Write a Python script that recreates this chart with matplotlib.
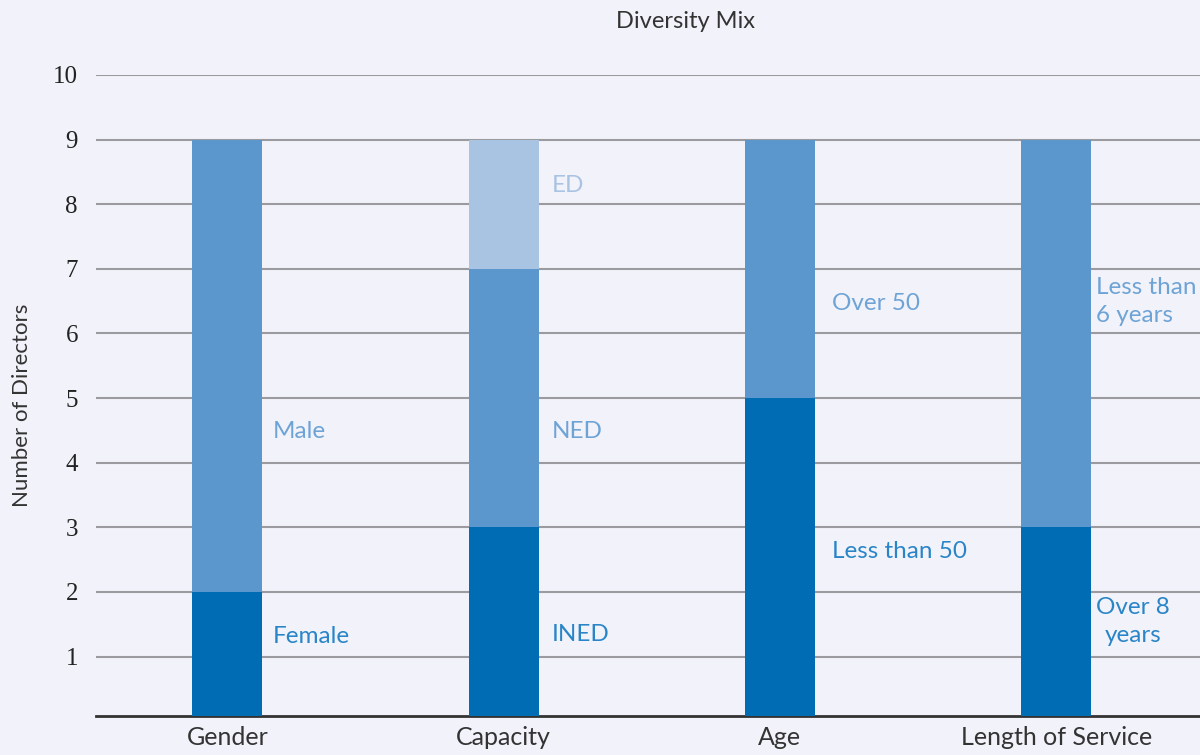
import numpy as np
import matplotlib
matplotlib.use('Agg')
import matplotlib.pyplot as plt

# ── Data ───────────────────────────────────────────────────────────────────────
categories = ['Gender', 'Capacity', 'Age', 'Length of Service']
dark_vals   = [2, 3, 5, 3]
mid_vals    = [7, 4, 4, 6]
light_vals  = [0, 2, 0, 0]

dark_labels  = ['Female', 'INED', 'Less than 50', 'Over 8\nyears']
mid_labels   = ['Male', 'NED', 'Over 50', 'Less than\n6 years']
light_labels = ['', 'ED', '', '']

# label heights (data units)
dark_label_y  = [1.31, 1.34, 2.62, 1.54]
mid_label_y   = [4.48, 4.48, 6.46, 6.5]
light_label_y = [0, 8.29, 0, 0]

y_ticks = list(range(1, 11))

# ── Style ──────────────────────────────────────────────────────────────────────
BG = '#f2f3fa'
DARK, MID, LIGHT = '#006cb4', '#5b97cc', '#a9c3e3'
DARK_TXT, MID_TXT, LIGHT_TXT = '#2a85c8', '#6ea3d6', '#a9c3e3'
SANS = ['Lato', 'DejaVu Sans']
SERIF = ['Liberation Serif', 'DejaVu Serif']
label_gap = [0.036, 0.047, 0.062, 0.018]   # gap between bar edge and its labels

fig = plt.figure(figsize=(12, 7.55), dpi=100)
fig.patch.set_facecolor(BG)
ax = fig.add_axes([0.08, 39/755, 0.92, (716-75)/755])
ax.set_facecolor(BG)

x = np.arange(len(categories))
w = 0.254
d = np.array(dark_vals)
m = np.array(mid_vals)
l = np.array(light_vals)
ax.bar(x, d, w, color=DARK, zorder=3)
ax.bar(x, m, w, bottom=d, color=MID, zorder=3)
ax.bar(x, l, w, bottom=d+m, color=LIGHT, zorder=3)

ax.set_xlim(-0.475, 3.52)
ax.set_ylim(0.08, 10)
ax.set_yticks(y_ticks)
ax.set_yticklabels([str(t) for t in y_ticks], family=SERIF, fontsize=18, color='#222')
ax.yaxis.grid(True, color='#9a9a9f', linewidth=1.5, zorder=1)
ax.tick_params(axis='y', length=0, pad=13)
ax.set_xticks(x)
ax.set_xticklabels(categories, family=SANS, fontsize=18, color='#333')
ax.tick_params(axis='x', length=0, pad=7)
for s in ['top', 'right', 'left']:
    ax.spines[s].set_visible(False)
ax.spines['bottom'].set_color('#333')
ax.spines['bottom'].set_linewidth(2)

lx = x + w/2 + np.array(label_gap)
for labels, ys, col in [(dark_labels, dark_label_y, DARK_TXT),
                        (mid_labels, mid_label_y, MID_TXT),
                        (light_labels, light_label_y, LIGHT_TXT)]:
    for xi, lbl, yi in zip(lx, labels, ys):
        if lbl:
            ax.text(xi, yi, lbl, ha='left', va='center', fontsize=17.5,
                    color=col, family=SANS, linespacing=1.4,
                    multialignment='center' if lbl.startswith('Over 8') else 'left')

fig.text(22/1200, 1 - 405/755, 'Number of Directors', rotation=90, ha='center',
         va='center', family=SANS, fontsize=16, color='#333')
fig.text(685/1200, 1 - 22/755, 'Diversity Mix', ha='center', va='center',
         family=SANS, fontsize=17, color='#333')

plt.savefig('out.png', dpi=100, facecolor=BG)
